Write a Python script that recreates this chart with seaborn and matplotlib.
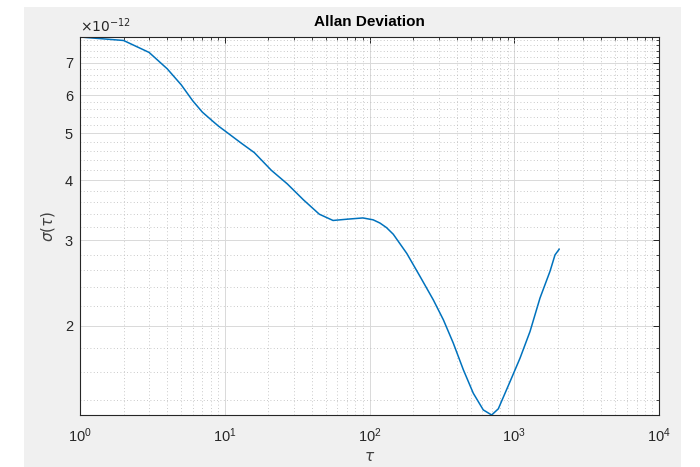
import numpy as np
import matplotlib
matplotlib.use("Agg")
import matplotlib.pyplot as plt
import seaborn as sns
from matplotlib.ticker import FixedLocator, FixedFormatter, MultipleLocator, LogLocator, NullFormatter
from matplotlib.patches import Rectangle

# -----------------------------
# Allan deviation data
# -----------------------------
tau = [1, 2, 3, 4, 5, 6, 7, 8, 9, 10, 13, 16, 21, 27, 35, 45, 56, 70, 90, 106,
       118, 131, 146, 181, 223, 276, 324, 379, 445, 521, 611, 698, 776,
       935, 1096, 1285, 1506, 1766, 1912, 2048]
adev_e12 = [7.91, 7.78, 7.35, 6.80, 6.30, 5.84, 5.53, 5.34, 5.18, 5.06, 4.77,
            4.56, 4.19, 3.93, 3.64, 3.40, 3.30, 3.32, 3.34, 3.31, 3.26, 3.19,
            3.09, 2.82, 2.53, 2.26, 2.055, 1.84, 1.62, 1.449, 1.338, 1.306,
            1.345, 1.531, 1.712, 1.944, 2.28, 2.59, 2.80, 2.88]
adev = np.array(adev_e12) * 1e-12

ytick_vals = [2, 3, 4, 5, 6, 7]
ytick_labels = ['2', '3', '4', '5', '6', '7']

sns.set_theme(style="white")
plt.rcParams['font.family'] = ['Liberation Sans', 'DejaVu Sans']
plt.rcParams['mathtext.fontset'] = 'dejavusans'

fig = plt.figure(figsize=(7, 4.67), dpi=100)
fig.patch.set_facecolor('white')
# MATLAB figure-style grey panel
fig.add_artist(Rectangle((24 / 700, 0), (681 - 24) / 700, (467 - 7) / 467,
                         transform=fig.transFigure, facecolor='#f0f0f0',
                         edgecolor='none', zorder=-10))

ax = fig.add_axes([80 / 700, 1 - 415 / 467, (659 - 80) / 700, (415 - 37) / 467])
ax.set_zorder(1)
ax.set_facecolor('white')

sns.lineplot(x=tau, y=adev, ax=ax, color='#0072BD', linewidth=1.1)

ax.set_xscale('log')
ax.set_yscale('log')
ax.set_xlim(1, 1e4)
ax.set_ylim(adev.min(), adev.max())

ax.yaxis.set_major_locator(FixedLocator([v * 1e-12 for v in ytick_vals]))
ax.yaxis.set_major_formatter(FixedFormatter(ytick_labels))
ax.yaxis.set_minor_locator(MultipleLocator(0.2e-12))
ax.yaxis.set_minor_formatter(NullFormatter())
ax.xaxis.set_major_locator(LogLocator(base=10, numticks=10))
ax.xaxis.set_minor_locator(LogLocator(base=10, subs=np.arange(2, 10), numticks=20))
ax.xaxis.set_minor_formatter(NullFormatter())

ax.grid(True, which='major', color='#d9d9d9', linestyle='-', linewidth=0.7)
ax.grid(True, which='minor', color='#b8b8b8', linestyle=(0, (1, 3)), linewidth=0.6)
ax.set_axisbelow(True)

for s in ax.spines.values():
    s.set_color('#262626')
    s.set_linewidth(0.8)
    s.set_visible(True)

ax.tick_params(which='both', direction='in', top=True, right=True,
               colors='#262626', labelsize=10.5)
ax.tick_params(which='major', length=4, width=0.7)
ax.tick_params(which='minor', length=2.2, width=0.6)
ax.tick_params(axis='y', pad=5)
ax.tick_params(axis='x', pad=8)
for lab in ax.get_xticklabels() + ax.get_yticklabels():
    lab.set_color('#262626')

ax.set_title('Allan Deviation', fontsize=11, fontweight='bold', color='#000000', pad=8)
ax.set_xlabel(r'$\tau$', fontsize=11, color='#404040', labelpad=4)
ax.set_ylabel(r'$\sigma(\tau)$', fontsize=11, color='#404040', labelpad=6)

ax.text(0.0, 1.012, r'$\times10^{-12}$', transform=ax.transAxes,
        ha='left', va='baseline', fontsize=10, color='#262626')

plt.savefig('out.png', dpi=100)
